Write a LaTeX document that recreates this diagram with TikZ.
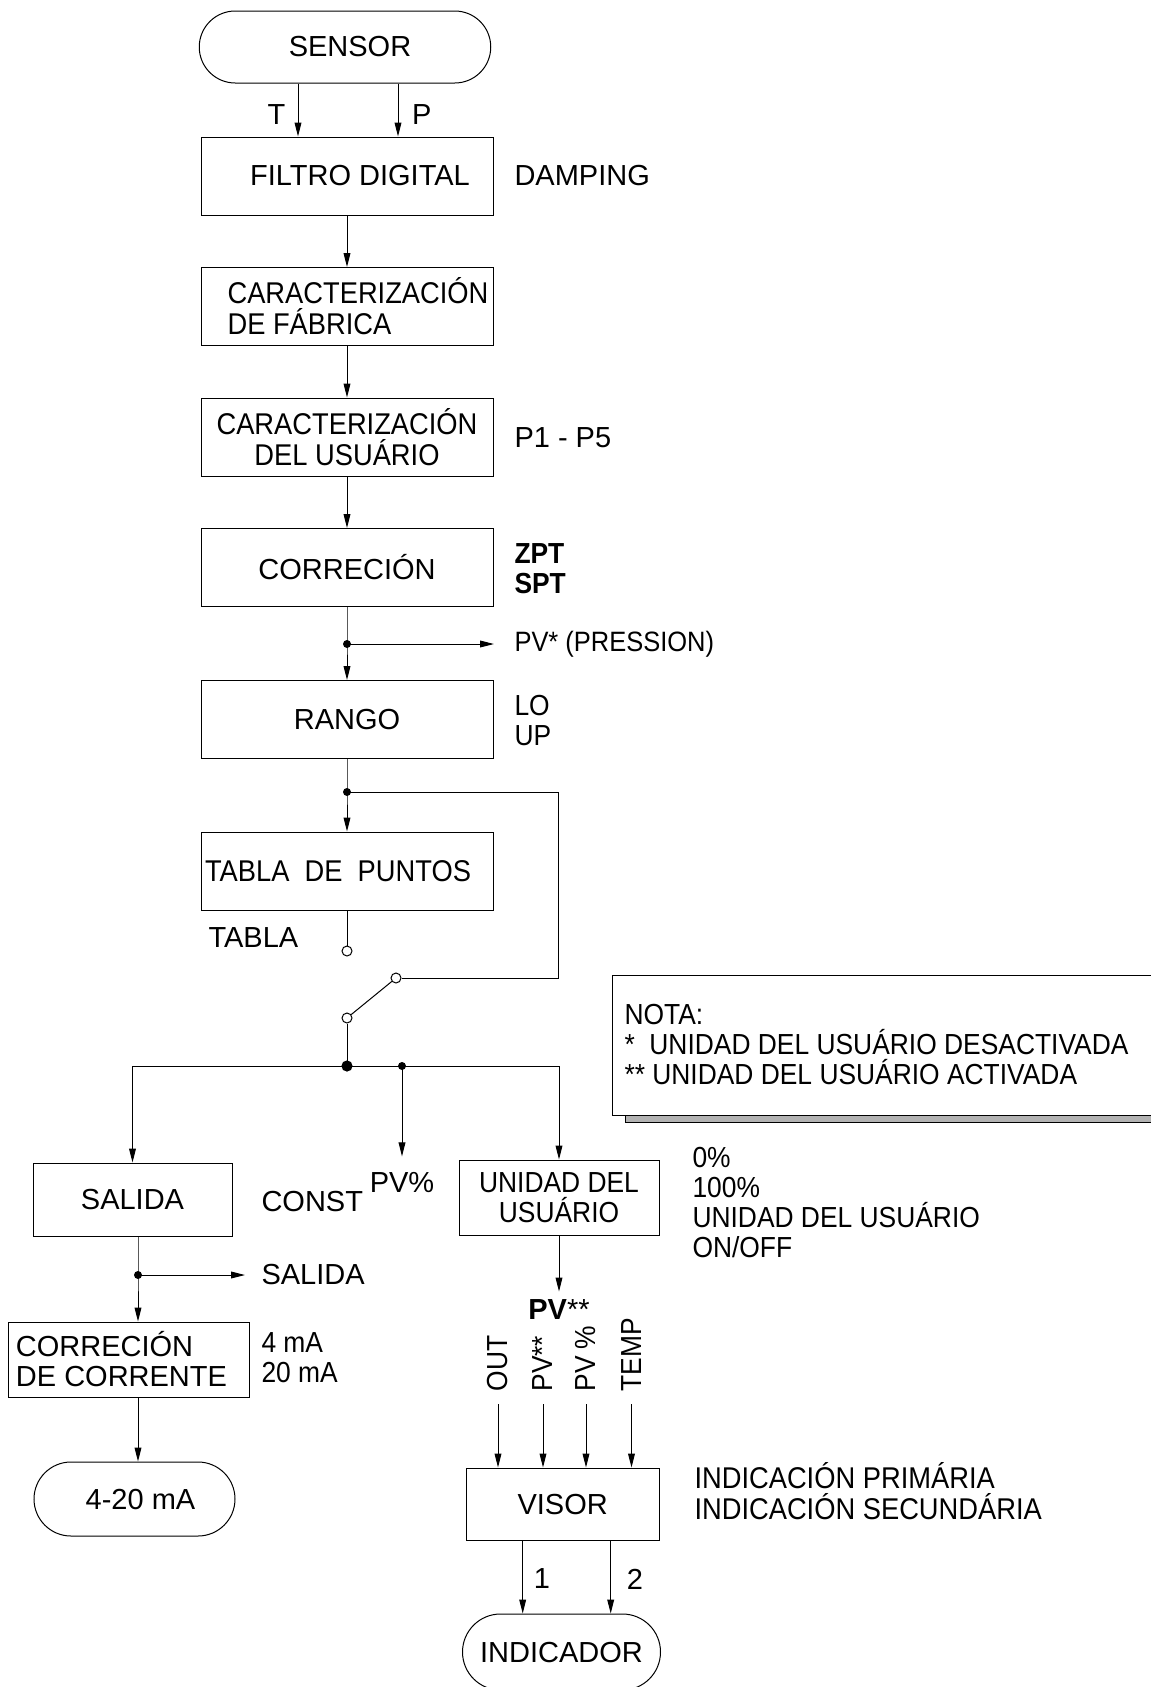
\documentclass[tikz,border=0pt]{standalone}
\usepackage{fontspec}
\setmainfont{Liberation Sans}
\newfontfamily\narrowfont{Liberation Sans}[FakeStretch=0.91]
\usetikzlibrary{shapes.misc,arrows.meta,positioning,calc}

\tikzset{
  block/.style={draw, rectangle, minimum width=146pt, minimum height=39pt, inner sep=0pt},
  term/.style={draw, rounded rectangle, inner sep=0pt},
  arr/.style={-{Triangle[length=7pt,width=3.4pt]}},
  txt/.style={anchor=west, inner sep=0pt, align=left},
  nar/.style={font=\fontsize{14.5}{15}\selectfont\narrowfont},
  wide/.style={font=\fontsize{15}{15.5}\selectfont\narrowfont},
  vlab/.style={nar, rotate=90, anchor=west, inner sep=0pt},
  opencirc/.style={circle, draw, fill=white, inner sep=0pt, minimum size=5pt},
}

\begin{document}
\begin{tikzpicture}[x=0.5pt,y=-0.5pt,line width=0.5pt,font=\fontsize{14.5}{15}\selectfont]
    \useasboundingbox (0,0) rectangle (1151,1687);
    % Main column
    \node[term, minimum width=145.75pt, minimum height=36pt] (sensor) at (345,47) {\hspace*{5pt}SENSOR};
    \node[block] (filtro) at (347,176) {\hspace*{13pt}FILTRO DIGITAL};
    \node[block, wide, align=left] (cfab) at (347,306.5) {\hspace*{11pt}CARACTERIZACIÓN\\\hspace*{11pt}DE FÁBRICA};
    \node[block, wide, align=center] (cusu) at (347,437) {CARACTERIZACIÓN\\DEL USUÁRIO};
    \node[block] (corr) at (347,567.5) {CORRECIÓN};
    \node[block] (rango) at (347,719.5) {RANGO};
    \node[block, wide] (tabla) at (347,871) {TABLA~~DE~~PUNTOS\hspace*{9pt}};
    % Side labels
    \node (tl) at (276.5,115) {T};
    \node (pl) at (421.7,115) {P};
    \node[txt] (damp) at (514,176) {DAMPING};
    \node[txt] (pp) at (514,438) {P1 - P5};
    \node[txt, nar] (zs) at (514,568.5) {\bfseries ZPT\\\bfseries SPT};
    \node[txt, font=\fontsize{14}{15}\selectfont\narrowfont] (pvp) at (514,644) {PV* (PRESSION)};
    \node[txt, nar] (lu) at (514,721) {LO\\UP};
    \node[txt] (tab) at (208,938) {TABLA};
    % Sensor outputs
    \path ([xshift=-23.5pt]sensor.south) coordinate (tout)
          ([xshift=26.5pt]sensor.south) coordinate (pout);
    \draw[arr] (tout) -- (tout |- filtro.north);
    \draw[arr] (pout) -- (pout |- filtro.north);
    \draw[arr] (filtro) -- (cfab);
    \draw[arr] (cfab) -- (cusu);
    \draw[arr] (cusu) -- (corr);
    \coordinate (j1) at (347,644);
    \draw[arr] (corr) -- (j1) -- (rango);
    \fill (j1) circle (2pt);
    \draw[arr, shorten >=10pt] (j1) -- (pvp.west);
    \coordinate (j2) at (347,792);
    \draw[arr] (rango) -- (j2) -- (tabla);
    \fill (j2) circle (2pt);
    % Switch
    \node[opencirc] (sw0) at (347,951) {};
    \node[opencirc] (sw2) at (396,978) {};
    \node[opencirc] (sw1) at (347,1018) {};
    \coordinate (rt) at (558,978);
    \draw (j2) -| (rt) -- (sw2);
    \draw (tabla) -- (sw0);
    \draw (sw1) -- (sw2);
    \coordinate (jb) at (347,1066);
    \coordinate (js) at (402,1066);
    \draw (sw1) -- (jb);
    % Note
    \draw[fill=gray!60] (625,1105) rectangle (1180,1122);
    \draw[fill=white] (612,975) rectangle (1180,1115);
    \node[txt, nar] (nota) at (624,1044.5) {NOTA:\\*\ \ UNIDAD DEL USUÁRIO DESACTIVADA\\** UNIDAD DEL USUÁRIO ACTIVADA};
    % Outputs
    \node[block, minimum width=99.5pt, minimum height=36.5pt] (salida) at (132.5,1199.5) {SALIDA};
    \node[block, nar, align=center, minimum width=100pt, minimum height=37.5pt] (unidad) at (559,1197.5) {UNIDAD DEL\\USUÁRIO};
    \node[txt] (const) at (261,1202) {CONST};
    \node[inner sep=0pt] (pvpct) at (402,1183) {PV\%};
    \node[txt, nar] (ulist) at (692,1203) {0\%\\100\%\\UNIDAD DEL USUÁRIO\\ON/OFF};
    \draw[arr] (jb) -| (salida);
    \draw[arr] (jb) -| (unidad);
    \draw[arr, shorten >=8pt] (js) -- (pvpct.north);
    \fill (jb) circle (2.8pt);
    \fill (js) circle (2pt);
    % Current loop
    \node[block, align=left, minimum width=120.5pt, minimum height=37.5pt] (corriente) at (128.5,1359.5) {CORRECIÓN\\DE CORRENTE\hspace*{7pt}};
    \node[txt, nar] (ma) at (261,1358) {4 mA\\20 mA};
    \node[term, minimum width=100.5pt, minimum height=37pt] (lazo) at (134.5,1499) {\hspace*{6pt}4-20 mA};
    \node[txt] (salout) at (261,1275) {SALIDA};
    \coordinate (j3) at (138,1275);
    \draw[arr] (salida.south -| j3) -- (j3) -- (corriente.north -| j3);
    \fill (j3) circle (2pt);
    \draw[arr, shorten >=8pt] (j3) -- (salout.west);
    \draw[arr] (corriente.south -| j3) -- (lazo.north -| j3);
    % Display
    \node[inner sep=0pt] (pvb) at (559,1310) {\textbf{PV}**};
    \draw[arr, shorten >=4pt] (unidad) -- (pvb);
    \node[vlab] (lout) at (498,1392) {OUT};
    \node[vlab] (lpv) at (543,1392) {PV**};
    \node[vlab] (lpct) at (586,1392) {PV \%};
    \node[vlab] (ltemp) at (631.5,1392) {TEMP};
    \node[block, minimum width=96.7pt, minimum height=36pt] (visor) at (562.7,1504) {VISOR};
    \foreach \l in {lout,lpv,lpct,ltemp}
        \draw[arr] ([yshift=-6pt]\l.west) -- (\l.west |- visor.north);
    \node[txt, wide] (indtxt) at (694,1491.5) {INDICACIÓN PRIMÁRIA\\INDICACIÓN SECUNDÁRIA};
    \node[term, minimum width=99pt, minimum height=38pt] (indic) at (561.5,1652) {INDICADOR};
    \path ([xshift=-20pt]visor.south) coordinate (o1)
          ([xshift=24pt]visor.south) coordinate (o2);
    \draw[arr] (o1) -- (o1 |- indic.north);
    \draw[arr] (o2) -- (o2 |- indic.north);
    \node (n1) at (542,1579) {1};
    \node (n2) at (635,1579) {2};
\end{tikzpicture}
\end{document}
